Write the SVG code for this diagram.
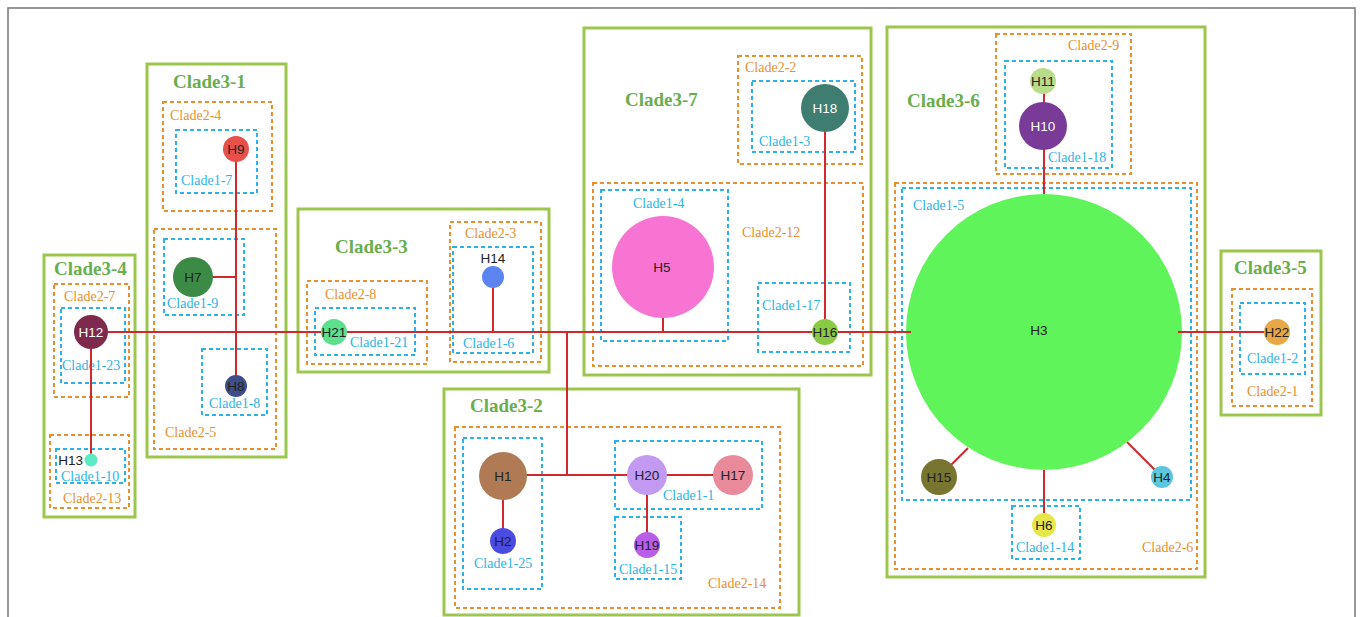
<svg xmlns="http://www.w3.org/2000/svg" width="1360" height="617" viewBox="0 0 1360 617">
<style>
.c3{fill:none;stroke:#9CC74C;stroke-width:3}
.c2{fill:none;stroke:#E8902E;stroke-width:2;stroke-dasharray:4 3}
.c1{fill:none;stroke:#2BB3E8;stroke-width:2;stroke-dasharray:4 3}
.t3{font-family:"Liberation Serif",serif;font-weight:bold;font-size:19px;fill:#6AAE4E}
.t2{font-family:"Liberation Serif",serif;font-size:14px;fill:#E8902E}
.t1{font-family:"Liberation Serif",serif;font-size:14px;fill:#2BB3E8}
.n{font-family:"Liberation Sans",Arial,sans-serif;font-size:13.5px;fill:#222;text-anchor:middle}
.w{fill:#fff}
.e{stroke:#D0282C;stroke-width:2;fill:none}
</style>
<rect x="8" y="8" width="1347" height="640" fill="#fff" stroke="#777" stroke-width="1.5"/>

<g id="clades">
  <g id="clade3-1"><rect class="c3" x="147" y="64" width="139" height="393"/><text class="t3" x="173" y="88">Clade3-1</text></g>
  <g id="clade2-4"><rect class="c2" x="163" y="102" width="109" height="109"/><text class="t2" x="170" y="120">Clade2-4</text></g>
  <g id="clade1-7"><rect class="c1" x="176" y="130" width="81" height="63"/><text class="t1" x="181" y="185">Clade1-7</text></g>
  <g id="clade2-5"><rect class="c2" x="154" y="229" width="122" height="220"/><text class="t2" x="165" y="437">Clade2-5</text></g>
  <g id="clade1-9"><rect class="c1" x="164" y="239" width="80" height="76"/><text class="t1" x="167" y="308">Clade1-9</text></g>
  <g id="clade1-8"><rect class="c1" x="202" y="349" width="65" height="66"/><text class="t1" x="209" y="408">Clade1-8</text></g>

  <g id="clade3-4"><rect class="c3" x="44" y="255" width="91" height="262"/><text class="t3" x="54" y="275">Clade3-4</text></g>
  <g id="clade2-7"><rect class="c2" x="54" y="284" width="75" height="113"/><text class="t2" x="64" y="301">Clade2-7</text></g>
  <g id="clade1-23"><rect class="c1" x="61" y="308" width="64" height="75"/><text class="t1" x="62" y="370">Clade1-23</text></g>
  <g id="clade2-13"><rect class="c2" x="50" y="435" width="79" height="73"/><text class="t2" x="63" y="503">Clade2-13</text></g>
  <g id="clade1-10"><rect class="c1" x="56" y="449" width="69" height="34"/><text class="t1" x="61" y="481">Clade1-10</text></g>

  <g id="clade3-3"><rect class="c3" x="298" y="209" width="251" height="163"/><text class="t3" x="335" y="253">Clade3-3</text></g>
  <g id="clade2-8"><rect class="c2" x="307" y="281" width="120" height="83"/><text class="t2" x="325" y="299">Clade2-8</text></g>
  <g id="clade1-21"><rect class="c1" x="315" y="308" width="100" height="47"/><text class="t1" x="350" y="347">Clade1-21</text></g>
  <g id="clade2-3"><rect class="c2" x="450" y="222" width="91" height="140"/><text class="t2" x="465" y="238">Clade2-3</text></g>
  <g id="clade1-6"><rect class="c1" x="453" y="247" width="80" height="106"/><text class="t1" x="463" y="348">Clade1-6</text></g>

  <g id="clade3-2"><rect class="c3" x="444" y="389" width="355" height="226"/><text class="t3" x="470" y="412">Clade3-2</text></g>
  <g id="clade2-14"><rect class="c2" x="455" y="427" width="325" height="181"/><text class="t2" x="708" y="588">Clade2-14</text></g>
  <g id="clade1-25"><rect class="c1" x="463" y="438" width="79" height="151"/><text class="t1" x="474" y="568">Clade1-25</text></g>
  <g id="clade1-1"><rect class="c1" x="615" y="441" width="147" height="68"/><text class="t1" x="663" y="500">Clade1-1</text></g>
  <g id="clade1-15"><rect class="c1" x="615" y="517" width="66" height="62"/><text class="t1" x="619" y="574">Clade1-15</text></g>

  <g id="clade3-7"><rect class="c3" x="584" y="28" width="287" height="347"/><text class="t3" x="625" y="106">Clade3-7</text></g>
  <g id="clade2-2"><rect class="c2" x="738" y="56" width="124" height="108"/><text class="t2" x="745" y="72">Clade2-2</text></g>
  <g id="clade1-3"><rect class="c1" x="752" y="81" width="103" height="71"/><text class="t1" x="759" y="146">Clade1-3</text></g>
  <g id="clade2-12"><rect class="c2" x="593" y="183" width="270" height="183"/><text class="t2" x="742" y="237">Clade2-12</text></g>
  <g id="clade1-4"><rect class="c1" x="601" y="190" width="127" height="151"/><text class="t1" x="633" y="208">Clade1-4</text></g>
  <g id="clade1-17"><rect class="c1" x="758" y="283" width="92" height="69"/><text class="t1" x="762" y="310">Clade1-17</text></g>

  <g id="clade3-6"><rect class="c3" x="887" y="27" width="318" height="550"/><text class="t3" x="907" y="107">Clade3-6</text></g>
  <g id="clade2-9"><rect class="c2" x="996" y="34" width="135" height="140"/><text class="t2" x="1068" y="50">Clade2-9</text></g>
  <g id="clade1-18"><rect class="c1" x="1005" y="61" width="107" height="107"/><text class="t1" x="1048" y="162">Clade1-18</text></g>
  <g id="clade2-6"><rect class="c2" x="895" y="183" width="302" height="386"/><text class="t2" x="1142" y="552">Clade2-6</text></g>
  <g id="clade1-5"><rect class="c1" x="902" y="188" width="289" height="312"/><text class="t1" x="913" y="210">Clade1-5</text></g>
  <g id="clade1-14"><rect class="c1" x="1012" y="506" width="68" height="53"/><text class="t1" x="1016" y="552">Clade1-14</text></g>

  <g id="clade3-5"><rect class="c3" x="1221" y="251" width="100" height="164"/><text class="t3" x="1234" y="274">Clade3-5</text></g>
  <g id="clade2-1"><rect class="c2" x="1232" y="289" width="80" height="117"/><text class="t2" x="1247" y="396">Clade2-1</text></g>
  <g id="clade1-2"><rect class="c1" x="1240" y="303" width="65" height="71"/><text class="t1" x="1247" y="363">Clade1-2</text></g>
</g>

<g id="connectors">
  <line class="e" x1="91" y1="332" x2="911" y2="332"/>
  <line class="e" x1="1178" y1="332" x2="1277" y2="332"/>
  <line class="e" x1="91" y1="332" x2="91" y2="460"/>
  <line class="e" x1="236" y1="149" x2="236" y2="386"/>
  <line class="e" x1="193" y1="277" x2="236" y2="277"/>
  <line class="e" x1="493" y1="277" x2="493" y2="332"/>
  <line class="e" x1="567" y1="332" x2="567" y2="475"/>
  <line class="e" x1="503" y1="475" x2="733" y2="475"/>
  <line class="e" x1="503" y1="476" x2="503" y2="541"/>
  <line class="e" x1="647" y1="475" x2="647" y2="545"/>
  <line class="e" x1="663" y1="267" x2="663" y2="332"/>
  <line class="e" x1="825" y1="108" x2="825" y2="332"/>
  <line class="e" x1="1044" y1="81" x2="1044" y2="196"/>
  <line class="e" x1="1044" y1="468" x2="1044" y2="525"/>
  <line class="e" x1="968" y1="448" x2="939" y2="477"/>
  <line class="e" x1="1127" y1="442" x2="1162" y2="477"/>
</g>

<g id="H9"><circle cx="236" cy="149" r="13" fill="#E8514A"/><text class="n" x="236" y="154">H9</text></g>
<g id="H7"><circle cx="193" cy="277" r="20" fill="#3B8A46"/><text class="n" x="193" y="282">H7</text></g>
<g id="H8"><circle cx="236" cy="386" r="11" fill="#3E4E88"/><text class="n" x="236" y="391">H8</text></g>
<g id="H12"><circle cx="91" cy="332" r="17" fill="#7E2A4C"/><text class="n w" x="91" y="337">H12</text></g>
<g id="H13"><circle cx="91" cy="460" r="6.5" fill="#5EEAC2"/><text class="n" x="83" y="465" style="text-anchor:end">H13</text></g>
<g id="H21"><circle cx="334" cy="332" r="13" fill="#5EDF8C"/><text class="n" x="334" y="337">H21</text></g>
<g id="H14"><circle cx="493" cy="277" r="11" fill="#5B84F0"/><text class="n" x="493" y="263">H14</text></g>
<g id="H1"><circle cx="503" cy="476" r="24" fill="#B07A55"/><text class="n" x="503" y="481">H1</text></g>
<g id="H2"><circle cx="503" cy="541" r="13" fill="#4B4BE2"/><text class="n" x="503" y="546">H2</text></g>
<g id="H20"><circle cx="647" cy="475" r="20" fill="#C39AF2"/><text class="n" x="647" y="480">H20</text></g>
<g id="H17"><circle cx="733" cy="475" r="20" fill="#E98A9A"/><text class="n" x="733" y="480">H17</text></g>
<g id="H19"><circle cx="647" cy="545" r="13" fill="#B95EE8"/><text class="n" x="647" y="550">H19</text></g>
<g id="H18"><circle cx="825" cy="108" r="24" fill="#3F7D70"/><text class="n w" x="825" y="113">H18</text></g>
<g id="H5"><circle cx="663" cy="267" r="51" fill="#F874D2"/><text class="n" x="662" y="272">H5</text></g>
<g id="H16"><circle cx="825" cy="332" r="13" fill="#8ACB46"/><text class="n" x="825" y="337">H16</text></g>
<g id="H11"><circle cx="1043" cy="81" r="13" fill="#B9DC8A"/><text class="n" x="1043" y="86">H11</text></g>
<g id="H10"><circle cx="1043" cy="126" r="24" fill="#7A3A97"/><text class="n w" x="1043" y="131">H10</text></g>
<g id="H3"><circle cx="1044" cy="332" r="138" fill="#5FF45A"/><text class="n" x="1039" y="335">H3</text></g>
<g id="connectors-over-H3">
  <line class="e" x1="906" y1="332" x2="911" y2="332"/>
  <line class="e" x1="1178" y1="332" x2="1182" y2="332"/>
</g>
<g id="H15"><circle cx="939" cy="477" r="18" fill="#787530"/><text class="n" x="939" y="482">H15</text></g>
<g id="H4"><circle cx="1162" cy="477" r="11" fill="#5BC6DE"/><text class="n" x="1162" y="482">H4</text></g>
<g id="H6"><circle cx="1044" cy="525" r="12" fill="#E6E84A"/><text class="n" x="1044" y="530">H6</text></g>
<g id="H22"><circle cx="1277" cy="332" r="13" fill="#E8A848"/><text class="n" x="1277" y="337">H22</text></g>
</svg>
